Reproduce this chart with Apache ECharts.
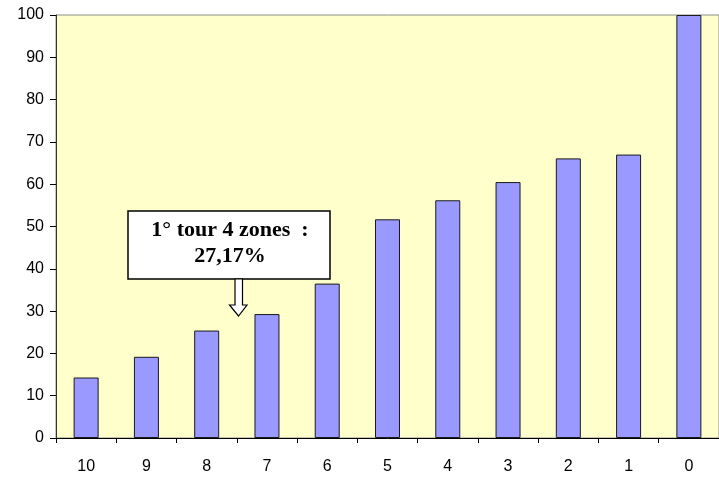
<!DOCTYPE html>
<html>
<head>
<meta charset="utf-8">
<script src="https://cdn.jsdelivr.net/npm/echarts@6/dist/echarts.min.js"></script>
<style>
  html, body { margin: 0; padding: 0; background: #fff; }
  #chart { width: 719px; height: 478px; }
</style>
</head>
<body>
<div id="chart"></div>
<script>
// catégories (nombre de zones) et pourcentages
const categories = ["10", "9", "8", "7", "6", "5", "4", "3", "2", "1", "0"];
const values = [14.3, 19.2, 25.4, 29.3, 36.5, 51.7, 56.2, 60.5, 66.1, 67.0, 100];
const yTicks = { min: 0, max: 100, interval: 10 };
const noteLines = ["1° tour 4 zones  :", "27,17%"];

const chart = echarts.init(document.getElementById("chart"), null, { renderer: "canvas" });

const option = {
  animation: false,
  backgroundColor: "#ffffff",
  grid: {
    left: 56,
    top: 15,
    width: 671, // la zone de tracé déborde à droite comme dans l'original
    height: 423,
    show: true,
    backgroundColor: "#FFFFCC",
    borderColor: "#8c8c8c",
    borderWidth: 1,
  },
  xAxis: {
    type: "category",
    data: categories,
    boundaryGap: true,
    axisLine: { lineStyle: { color: "#000", width: 1 } },
    axisTick: { show: true, length: 5, lineStyle: { color: "#000" } },
    axisLabel: {
      color: "#000",
      fontFamily: "Liberation Sans",
      fontSize: 16,
      margin: 21,
    },
  },
  yAxis: {
    type: "value",
    min: yTicks.min,
    max: yTicks.max,
    interval: yTicks.interval,
    axisLine: { show: true, lineStyle: { color: "#333", width: 1 } },
    axisTick: { show: true, length: 6, lineStyle: { color: "#000" } },
    splitLine: { show: false },
    axisLabel: {
      color: "#000",
      fontFamily: "Liberation Sans",
      fontSize: 16,
      margin: 12,
    },
  },
  series: [
    {
      type: "bar",
      data: values,
      barWidth: 25,
      itemStyle: {
        color: "#9999FF",
        borderColor: "#1a1a1a",
        borderWidth: 1,
      },
    },
  ],
  graphic: [
    {
      type: "rect",
      shape: { x: 128, y: 211, width: 202, height: 68 },
      style: { fill: "#ffffff", stroke: "#000", lineWidth: 1.5 },
      z: 10,
    },
    {
      type: "text",
      x: 230,
      y: 243,
      style: {
        text: noteLines.join("\n"),
        font: "bold 22px 'Liberation Serif'",
        fill: "#000",
        align: "center",
        verticalAlign: "middle",
        lineHeight: 26,
      },
      z: 11,
    },
    {
      // flèche creuse vers le bas
      type: "polygon",
      shape: {
        points: [
          [235, 279], [242.5, 279], [242.5, 305], [247, 305],
          [238.5, 316], [229.5, 305], [235, 305],
        ],
      },
      style: { fill: "#ffffff", stroke: "#000", lineWidth: 1.2 },
      z: 10,
    },
  ],
};

chart.setOption(option);
</script>
</body>
</html>
